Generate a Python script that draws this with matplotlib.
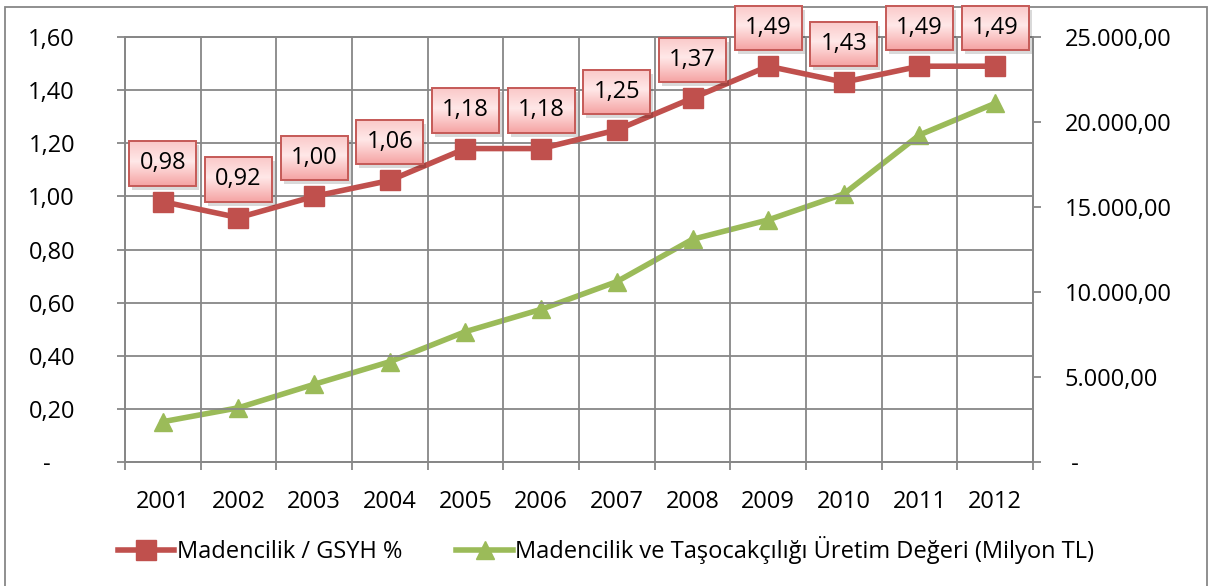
import matplotlib
matplotlib.use("Agg")
import matplotlib.pyplot as plt
from matplotlib.patches import Rectangle
from matplotlib.lines import Line2D
from matplotlib.colors import LinearSegmentedColormap
import numpy as np

plt.rcParams['font.family'] = ['Open Sans', 'DejaVu Sans']

years = ['2001', '2002', '2003', '2004', '2005', '2006',
         '2007', '2008', '2009', '2010', '2011', '2012']
gsyh_pct = [0.98, 0.92, 1.00, 1.06, 1.18, 1.18, 1.25, 1.37, 1.49, 1.43, 1.49, 1.49]
uretim = [2370, 3190, 4570, 5900, 7670, 8980, 10610, 13100, 14240, 15770, 19240, 21100]
left_ticks = [0, 0.2, 0.4, 0.6, 0.8, 1.0, 1.2, 1.4, 1.6]
right_ticks = [0, 5000, 10000, 15000, 20000, 25000]

label1 = 'Madencilik / GSYH %'
label2 = 'Madencilik ve Taşocakçılığı Üretim Değeri (Milyon TL)'

RED = '#C0504D'
GREEN = '#9BBB59'
GRID = '#878787'
FS = 17

def tr_fmt(v, dec=2):
    s = f"{v:,.{dec}f}"
    return s.replace(',', 'X').replace('.', ',').replace('X', '.')

fig = plt.figure(figsize=(12.12, 5.86), dpi=100)
fig.patches.append(Rectangle((5/1212, -0.1), 1202/1212, 1.1 - 7/586,
                             transform=fig.transFigure, fill=False,
                             edgecolor=GRID, lw=1.3, zorder=0))

ax = fig.add_axes([125/1212, 1 - 462/586, 908/1212, 425/586])
ax2 = ax.twinx()

n = len(years)
x = list(range(n))

ax.set_xlim(-0.5, n - 0.5)
ax.set_ylim(0, 1.6)
ax2.set_ylim(0, 25000)

ax.set_yticks(left_ticks)
ax.set_yticklabels(['-    ' if t == 0 else tr_fmt(t) for t in left_ticks])
ax.set_xticks([i - 0.5 for i in range(n + 1)])
ax.set_xticklabels([])
ax.set_xticks(x, minor=True)
ax.set_xticklabels(years, minor=True)
ax.grid(True, which='major', color=GRID, lw=1.3)
ax.set_axisbelow(True)
ax.tick_params(axis='x', which='major', length=6, width=1.3, color=GRID, direction='out')
ax.tick_params(axis='x', which='minor', length=0, pad=20, labelsize=FS)
ax.tick_params(axis='y', length=6, width=1.3, color=GRID, pad=30, labelsize=FS)

ax2.set_yticks(right_ticks)
ax2.set_yticklabels([' -' if t == 0 else tr_fmt(t) for t in right_ticks])
ax2.tick_params(axis='y', length=6, width=1.3, color=GRID, pad=17, labelsize=FS)

for a in (ax, ax2):
    for sp in a.spines.values():
        sp.set_color(GRID)
        sp.set_linewidth(1.3)

ax2.plot(x, uretim, color=GREEN, lw=4, marker='^', markersize=13,
         zorder=3, clip_on=False)
ax.set_zorder(ax2.get_zorder() + 1)
ax.patch.set_visible(False)
ax.plot(x, gsyh_pct, color=RED, lw=4, marker='s', markersize=14,
        zorder=4, clip_on=False)

# data labels (text + border), gradient fill added after layout
anns = []
for xi, v in zip(x, gsyh_pct):
    t = ax.annotate(tr_fmt(v), (xi, v), xytext=(0, 27.5), textcoords='offset points',
                    ha='center', va='center', fontsize=FS, color='black',
                    bbox=dict(boxstyle='square,pad=0.43', fc='none', ec='#C55A57', lw=1.4),
                    zorder=7, annotation_clip=False)
    anns.append(t)

handles = [Line2D([], [], color=RED, lw=4, marker='s', markersize=14),
           Line2D([], [], color=GREEN, lw=4, marker='^', markersize=13)]
fig.legend(handles, [label1, label2], loc='center', bbox_to_anchor=(0.5, 1 - 550/586),
           ncol=2, frameon=False, fontsize=FS, handlelength=2.4, handletextpad=0.1,
           columnspacing=2.3)

fig.canvas.draw()
grad = LinearSegmentedColormap.from_list(
    'pinkgrad', [(0.0, '#F5A3A3'), (0.55, '#FFE8E8'), (1.0, '#FAC8C8')])
g = np.linspace(0, 1, 64).reshape(-1, 1)
inv = ax.transData.inverted()
for t in anns:
    bb = t.get_bbox_patch().get_window_extent()
    (x0, y0) = inv.transform((bb.x0, bb.y0))
    (x1, y1) = inv.transform((bb.x1, bb.y1))
    (sx0, sy0) = inv.transform((bb.x0 + 3, bb.y0 - 4))
    (sx1, sy1) = inv.transform((bb.x1 + 3, bb.y1 - 4))
    ax.add_patch(Rectangle((sx0, sy0), sx1 - sx0, sy1 - sy0, fc='black', ec='none',
                           alpha=0.15, zorder=5, clip_on=False))
    ax.imshow(g, cmap=grad, extent=(x0, x1, y0, y1), origin='lower',
              aspect='auto', zorder=6, clip_on=False, interpolation='bilinear')
ax.set_xlim(-0.5, n - 0.5)
ax.set_ylim(0, 1.6)

fig.savefig('out.png', dpi=100)
